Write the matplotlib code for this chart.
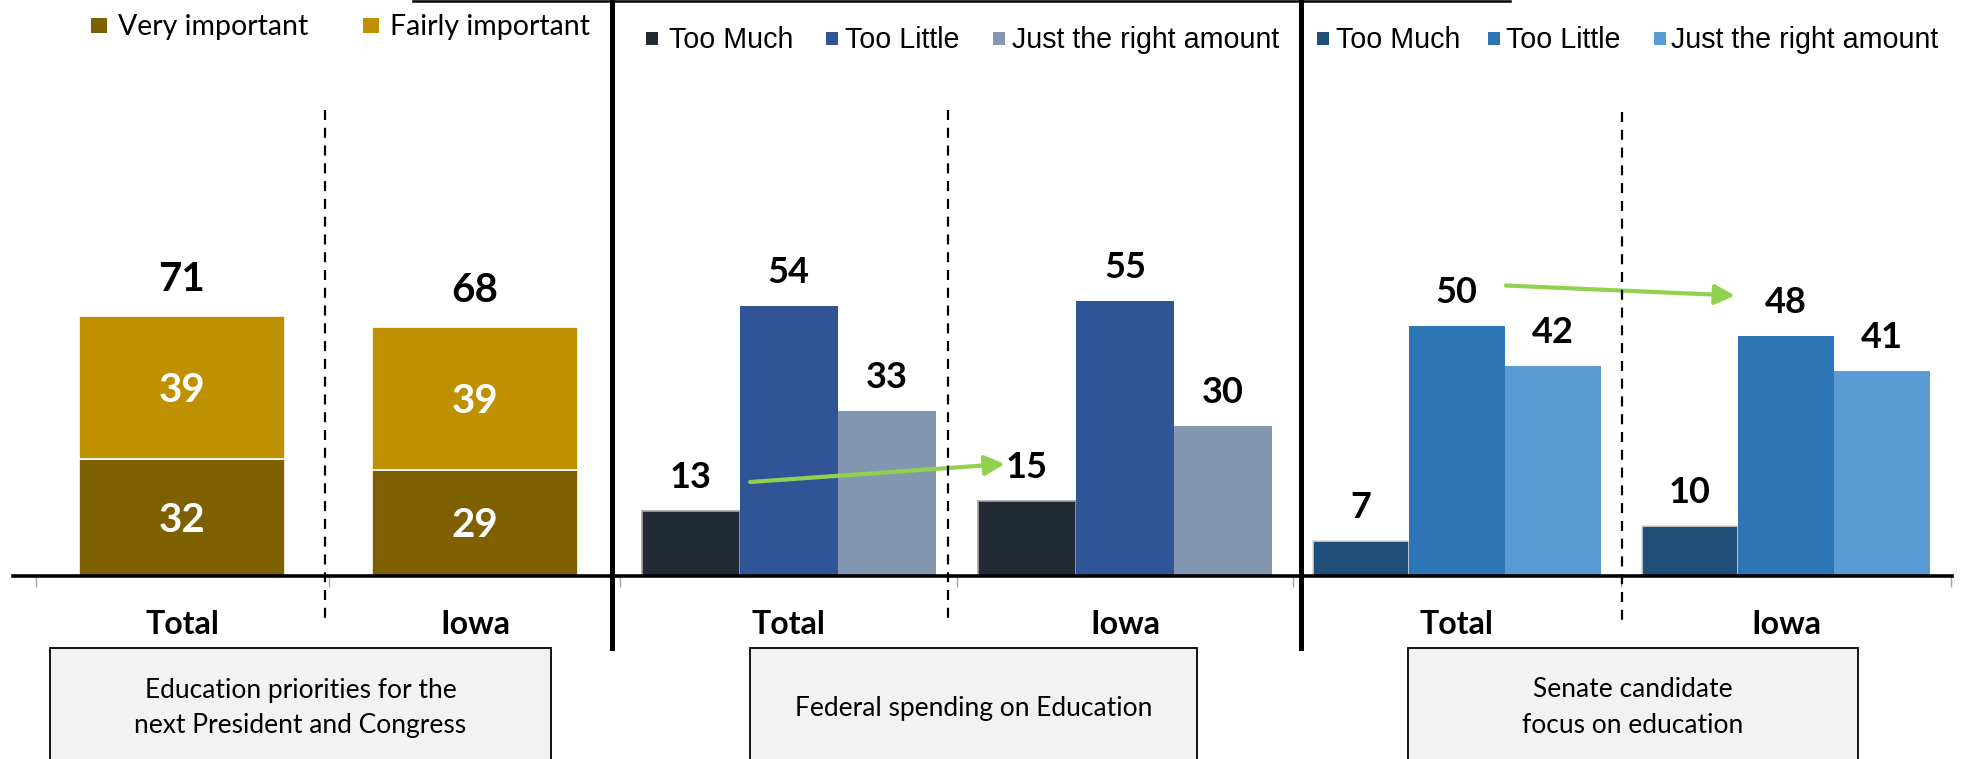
import matplotlib
matplotlib.use("Agg")
import matplotlib.pyplot as plt
from matplotlib.patches import Rectangle, FancyArrowPatch
from matplotlib.lines import Line2D
from matplotlib.transforms import blended_transform_factory
import numpy as np

# ---------------- data ----------------
groups = ["Total", "Iowa"]

p1_labels = ["Very important", "Fairly important"]
p1_very = [32, 29]
p1_fairly = [39, 39]
p1_colors = ["#7F6000", "#BF9000"]
p1_title = "Education priorities for the\nnext President and Congress"

p2_labels = ["Too Much", "Too Little", "Just the right amount"]
p2_too_much = [13, 15]
p2_too_little = [54, 55]
p2_just_right = [33, 30]
p2_colors = ["#222A35", "#2F5597", "#8497B0"]
p2_title = "Federal spending on Education"

p3_labels = ["Too Much", "Too Little", "Just the right amount"]
p3_too_much = [7, 10]
p3_too_little = [50, 48]
p3_just_right = [42, 41]
p3_colors = ["#1F4E79", "#2E75B6", "#5B9BD5"]
p3_title = "Senate candidate\nfocus on education"

ARROW_GREEN = "#92D050"
CAL = "Lato"
ARIAL = "Liberation Sans"

# ---------------- layout (pixels) ----------------
W, H = 1962, 759
DPI = 100
BASE_Y = 576      # baseline pixel row
TOP_Y = 76        # top of axes pixel row

fig = plt.figure(figsize=(W / DPI, H / DPI), dpi=DPI)
fig.patch.set_facecolor("white")


def fx(x):
    return x / W


def fy(y):
    return 1 - y / H


def make_ax(x0, x1, c0, spacing, ymax):
    ax = fig.add_axes([fx(x0), fy(BASE_Y), (x1 - x0) / W, (BASE_Y - TOP_Y) / H])
    ax.set_xlim((x0 - c0) / spacing, (x1 - c0) / spacing)
    ax.set_ylim(0, ymax)
    for s in ["top", "left", "right"]:
        ax.spines[s].set_visible(False)
    ax.spines["bottom"].set_color("black")
    ax.spines["bottom"].set_linewidth(2.6)
    ax.set_yticks([])
    ax.tick_params(axis="x", direction="out", length=8, width=1,
                   color="#A6A6A6", labelbottom=False)
    ax.patch.set_alpha(0)
    return ax


def dashed(ax, xd, ytop, ybot):
    tr = blended_transform_factory(ax.transData, fig.transFigure)
    ax.plot([xd, xd], [fy(ytop), fy(ybot)], transform=tr, color="black",
            lw=1.6, linestyle=(0, (4.5, 3.5)), clip_on=False)


def cat_labels(ax):
    tr = blended_transform_factory(ax.transData, fig.transFigure)
    for i, g in enumerate(groups):
        ax.text(i, fy(634), g, transform=tr, ha="center", va="baseline",
                fontsize=23, fontweight="bold", family=CAL)


def box(x0, x1, text, baselines, size=19):
    r = Rectangle((fx(x0), -0.1), (x1 - x0) / W, fy(648) + 0.1,
                  transform=fig.transFigure, facecolor="#F2F2F2",
                  edgecolor="black", lw=1.3)
    fig.add_artist(r)
    for line, b in zip(text.split("\n"), baselines):
        fig.text(fx((x0 + x1) / 2), fy(b), line, ha="center", va="baseline",
                 fontsize=size, family=CAL)


def legend_item(sq_x, sq_y, sq_w, sq_h, color, tx, ty, label, family, size):
    fig.add_artist(Rectangle((fx(sq_x), fy(sq_y + sq_h)), sq_w / W, sq_h / H,
                             transform=fig.transFigure, facecolor=color,
                             edgecolor="none"))
    fig.text(fx(tx), fy(ty), label, ha="left", va="baseline",
             fontsize=size, family=family)


x = np.arange(len(groups))

# ---------------- panel 1 ----------------
ax1 = make_ax(13, 612, 182, 293, 136.5)
bw1 = 206 / 293
ax1.bar(x, p1_very, width=bw1, color=p1_colors[0], edgecolor="white", lw=1.2)
ax1.bar(x, p1_fairly, width=bw1, bottom=p1_very, color=p1_colors[1],
        edgecolor="white", lw=1.2)
ax1.set_xticks([-0.5, 0.5])
totals1 = np.add(p1_very, p1_fairly)
for i in x:
    ax1.annotate(str(totals1[i]), xy=(i, totals1[i]), xytext=(0, 18),
                 textcoords="offset points", ha="center", va="baseline",
                 fontsize=29, fontweight="bold", family=CAL)
    ax1.annotate(str(p1_very[i]), xy=(i, p1_very[i] / 2), xytext=(0, -10.5),
                 textcoords="offset points", ha="center", va="baseline",
                 fontsize=29, fontweight="bold", family=CAL, color="white")
    ax1.annotate(str(p1_fairly[i]), xy=(i, p1_very[i] + p1_fairly[i] / 2),
                 xytext=(0, -10.5), textcoords="offset points", ha="center",
                 va="baseline", fontsize=29, fontweight="bold", family=CAL,
                 color="white")
dashed(ax1, (325 - 182) / 293, 110, 619)
cat_labels(ax1)


# ---------------- panels 2 & 3 ----------------
def grouped(ax, series, colors, edgecolors, bw, label_pts):
    offs = [-bw, 0, bw]
    for vals, col, ec, off in zip(series, colors, edgecolors, offs):
        ax.bar(x + off, vals, width=bw, color=col,
               edgecolor=ec if ec else "none", lw=1.2 if ec else 0)
        for i in x:
            ax.annotate(str(vals[i]), xy=(i + off, vals[i]),
                        xytext=(0, label_pts), textcoords="offset points",
                        ha="center", va="baseline", fontsize=26,
                        fontweight="bold", family=CAL)


ax2 = make_ax(612, 1301, 788.5, 336.5, 100)
grouped(ax2, [p2_too_much, p2_too_little, p2_just_right], p2_colors,
        ["#A6A6A6", None, None], 98 / 336.5, 16.8)
ax2.set_xticks([-0.5, 0.5, 1.5])
dashed(ax2, (948 - 788.5) / 336.5, 110, 623)
cat_labels(ax2)
ax2.add_patch(FancyArrowPatch((-0.114, 18.8), (0.643, 22.4),
                              arrowstyle="-|>,head_length=0.6,head_width=0.3",
                              mutation_scale=20, color=ARROW_GREEN, lw=3,
                              shrinkA=0, shrinkB=0, clip_on=False))

ax3 = make_ax(1301, 1952, 1456.5, 329.5, 100)
grouped(ax3, [p3_too_much, p3_too_little, p3_just_right], p3_colors,
        ["#D9D9D9", None, None], 96 / 329.5, 16.8)
ax3.set_xticks([0.5, 1.5])
dashed(ax3, (1622 - 1456.5) / 329.5, 112, 622)
cat_labels(ax3)
ax3.add_patch(FancyArrowPatch((0.150, 58.1), (0.845, 56.1),
                              arrowstyle="-|>,head_length=0.6,head_width=0.3",
                              mutation_scale=20, color=ARROW_GREEN, lw=3,
                              shrinkA=0, shrinkB=0, clip_on=False))

# ---------------- frame lines ----------------
for xv in (612, 1301):
    fig.add_artist(Line2D([fx(xv), fx(xv)], [fy(648), 1.0],
                          transform=fig.transFigure, color="black", lw=3.6))
fig.add_artist(Line2D([fx(413), fx(1510)], [fy(1), fy(1)],
                      transform=fig.transFigure, color="black", lw=1.8))

# ---------------- legends ----------------
legend_item(91, 18, 16, 15, p1_colors[0], 118, 35, p1_labels[0], CAL, 20.5)
legend_item(363, 18, 16, 15, p1_colors[1], 390, 35, p1_labels[1], CAL, 20.5)

for sx, tx, col, lab in zip([646, 826, 993], [669, 845, 1012], p2_colors, p2_labels):
    legend_item(sx, 32, 12, 13, col, tx, 48, lab, ARIAL, 20.6)
for sx, tx, col, lab in zip([1317, 1488, 1654], [1336, 1506, 1671], p3_colors, p3_labels):
    legend_item(sx, 32, 12, 13, col, tx, 48, lab, ARIAL, 20.6)

# ---------------- boxes ----------------
box(50, 551, p1_title, [698, 733])
box(750, 1197, p2_title, [716])
box(1408, 1858, p3_title, [697, 733])

fig.savefig("out.png", dpi=DPI, facecolor="white")
